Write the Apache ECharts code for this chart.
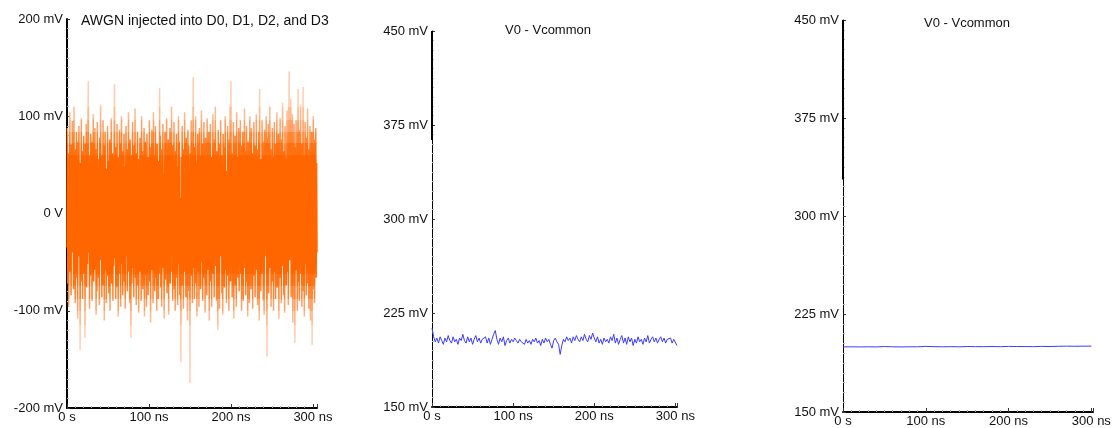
<!DOCTYPE html>
<html>
<head>
<meta charset="utf-8">
<script src="https://cdn.jsdelivr.net/npm/echarts@6/dist/echarts.min.js"></script>
<style>
  html, body { margin: 0; padding: 0; background: #fff; }
  #main { width: 1114px; height: 428px; }
</style>
</head>
<body>
<div id="main"></div>
<script>
var chart = echarts.init(document.getElementById('main'));

// AWGN trace, mV, one sample every 0.5 ns from 0 to 305 ns
var awgnStep = 0.5;
var awgnMv = [
  -35, 88, -72, 45, -96, 62, -18, 104, -60, 30, -84, 71, -40, 95, -22, 58, -78, 110, -50, 26,
  -92, 66, -30, 84, -66, 12, -108, 74, -44, 90, -20, 52, -140, 38, -70, 98, -56, 20, -88, 64,
  -34, 80, -62, 44, -128, 72, -10, 92, -76, 36, -52, 86, 136, -40, 60, -98, 28, -64, 82, -24,
  74, -90, 50, -36, 102, -70, 16, -58, 88, -14, 66, -104, 40, -80, 94, -28, 56, -66, 22, -94,
  78, -48, 112, -20, 60, -86, 34, -74, 96, -42, 70, -110, 8, 84, -58, 46, -92, 30, -38, 90,
  -64, 54, -82, 24, 76, -100, 42, -30, 98, -72, 18, 62, -90, 36, -54, 80, 133, -46, 68, -88,
  26, -76, 92, -12, 58, -106, 44, -62, 86, -34, 72, -96, 14, 100, -52, 38, -84, 64, -26, 82,
  -70, 48, -98, 20, 90, -44, 66, -80, 32, -60, 104, -16, 54, -92, 76, -38, -128, 60, -72, 28,
  94, -56, 40, -86, 70, -22, 108, -66, 16, -94, 62, -40, 84, -74, 30, -102, 56, -18, 78, -60,
  46, -90, 100, -28, 64, -78, 22, -50, 88, -106, 36, 74, -64, 12, -96, 82, -42, 58, -84, 34,
  -20, 96, -70, 50, -112, 68, -32, 86, -58, 26, -92, 104, -46, 60, -80, 18, 90, -66, 42, -100,
  72, -24, 54, -88, 30, -62, 129, -48, 80, -76, 14, -96, 66, -36, 92, -56, 40, -108, 20, 84,
  -68, 58, -40, 98, -82, 28, -54, 76, -104, 44, -18, 88, -72, 62, -30, 110, -60, 22, -90, 70,
  -46, 94, -78, 36, -100, 64, -12, 82, -66, 48, -94, 26, 100, -52, 74, -84, 16, -38, -153, 58,
  -74, 90, -42, 66, -98, 32, -60, 104, -22, 56, -86, 78, -50, 20, -110, 86, -34, 70, -80, 44,
  -174, 62, -28, 96, -64, 40, -92, 74, 140, -56, 30, -88, 68, -18, 100, -72, 52, -106, 24, 82,
  -60, 46, -96, 88, -34, 60, -78, 14, 106, -50, 72, -90, 36, -66, 94, -24, 54, -102, 78, -42,
  20, -84, 98, -58, 66, -30, 84, -110, 44, -16, 92, -70, 58, -96, 28, -48, 102, -62, 34, -86,
  76, -20, 110, -54, 40, -90, 64, -36, -120, 86, -68, 26, -98, 72, -44, 96, -14, 60, -82, 50,
  -104, 82, -38, 68, -76, 18, 100, -58, 44, -92, 30, -64, 90, -26, 56, -100, 76, -48, 112, -70,
  136, -32, 62, -86, 24, -54, 94, -108, 48, -20, 80, -74, 36, -96, 104, -44, 58, -66, 14, 88,
  -80, 52, -28, 96, -62, 40, -100, 70, -16, 84, -90, 32, -56, 108, -38, 64, -84, 22, 90, -70,
  46, -106, 74, -24, 58, -92, 100, -48, 34, -78, 88, -12, 62, -98, 42, -64, 94, -30, 70, -86,
  26, -58, 102, -40, 66, -94, 18, -72, 84, -110, 128, -36, 56, -80, 30, -62, 96, -20, 74, -90,
  50, -104, 86, -44, 62, -26, 100, -68, -147, 78, -34, 92, -82, 40, -56, 110, -18, 66, -96, 36,
  -70, 88, -42, 58, -100, 24, 94, -60, 46, -88, 72, -14, 104, -76, 32, -50, 82, -108, 60, -28,
  98, -66, 42, -92, 76, -22, 114, -54, 28, -84, 64, -102, 90, -38, 56, -74, 20, 106, -60, 44,
  -94, 80, 146, -48, 70, -30, 118, -86, 36, -64, 102, -112, 58, -20, 92, -76, -133, 68, -40, 96,
  -58, 34, -100, 74, 128, -70, 48, -90, 86, -26, 112, -62, 40, -96, 72, -44, 130, -80, 60, -106,
  24, 94, -52, 78, -84, 38, -18, 108, -72, 56, -98, 66, -34, 90, -110, 46, -60, 84, -135, 30,
  -78, 100, -42, 62, -92, 76, -28, 88, -66, 52, -40
];

// V0 - Vcommon, middle panel, mV, one sample every 2 ns
var midStep = 2;
var midMv = [
  213, 206, 202, 205, 201, 206, 203, 200, 205, 202, 207, 203, 201, 206, 202, 204, 200, 205, 203, 208,
  203, 201, 206, 202, 205, 200, 204, 207, 202, 205, 201, 204, 203, 206, 201, 205, 200, 204, 208, 211,
  204, 200, 205, 202, 206, 199, 203, 205, 201, 204, 202, 205, 203, 201, 204, 202, 203, 200, 204, 201,
  203, 200, 204, 202, 205, 201, 203, 199, 204, 201, 205, 202, 204, 200, 197, 203, 205, 202, 200, 192,
  199, 204, 202, 206, 203, 205, 201, 206, 203, 207, 204, 202, 206, 203, 208, 204, 202, 207, 204, 209,
  205, 202, 206, 201, 204, 200, 205, 202, 204, 201, 206, 203, 208, 201, 205, 200, 204, 207, 201, 205,
  200, 206, 202, 205, 199, 204, 201, 206, 202, 204, 200, 205, 202, 207, 201, 204, 206, 202, 205, 201,
  204, 206, 202, 205, 201, 204, 203, 205, 201, 204, 203, 199
];

// V0 - Vcommon, right panel, mV, one sample every 10 ns
var rightStep = 10;
var rightMv = [
  199.8, 199.9, 199.8, 199.9, 199.8, 200.1, 199.9, 199.8, 199.9, 199.9, 200.2, 200.0, 199.9, 200.0, 199.9, 200.1,
  200.0, 200.0, 200.1, 200.0, 200.2, 200.1, 200.1, 200.0, 200.2, 200.1, 200.3, 200.4, 200.3, 200.4, 200.4
];

var titles = ['AWGN injected into D0, D1, D2, and D3', 'V0 - Vcommon', 'V0 - Vcommon'];

function pairs(values, step) {
  return values.map(function (v, i) { return [i * step, v]; });
}

var labelFont = { fontFamily: 'Liberation Sans, Arial, sans-serif', fontSize: 13, color: '#111' };

function timeAxis(gridIndex, max) {
  return {
    type: 'value', gridIndex: gridIndex, min: 0, max: max, interval: 100,
    axisLine: { onZero: false, lineStyle: { color: '#000', width: 2 } },
    axisTick: { inside: true, length: 4, lineStyle: { color: '#333' } },
    minorTick: { show: true, splitNumber: 10, length: 2, lineStyle: { color: '#aaa' } },
    splitLine: { show: false },
    axisLabel: Object.assign({
      margin: 3, showMaxLabel: false,
      formatter: function (v) { return v === 0 ? '0 s' : v + ' ns'; }
    }, labelFont)
  };
}

function voltAxis(gridIndex, min, max, interval, width) {
  return {
    type: 'value', gridIndex: gridIndex, min: min, max: max, interval: interval,
    axisLine: { onZero: false, lineStyle: { color: '#000', width: width } },
    axisTick: { inside: true, length: 3, lineStyle: { color: '#333' } },
    minorTick: { show: true, splitNumber: 10, length: 2, lineStyle: { color: '#bbb' } },
    splitLine: { show: false },
    axisLabel: Object.assign({
      margin: 4,
      formatter: function (v) { return v === 0 ? '0 V' : v + ' mV'; }
    }, labelFont)
  };
}

var titleStyle = { fontFamily: 'Liberation Sans, Arial, sans-serif', fontWeight: 'normal', color: '#111' };

var option = {
  backgroundColor: '#fff',
  animation: false,
  title: [
    { text: titles[0], left: 76, top: 9, textStyle: Object.assign({ fontSize: 14 }, titleStyle) },
    { text: titles[1], left: 543, top: 19, textAlign: 'center', textStyle: Object.assign({ fontSize: 13 }, titleStyle) },
    { text: titles[2], left: 962, top: 12, textAlign: 'center', textStyle: Object.assign({ fontSize: 13 }, titleStyle) }
  ],
  // dense core of the noise is dark orange, the thin excursions fade lighter
  visualMap: {
    type: 'piecewise', show: false, seriesIndex: 0, dimension: 1,
    pieces: [
      { lt: -115, color: '#ffcdb0' },
      { gte: -115, lt: -100, color: '#ffb98c' },
      { gte: -100, lt: -88, color: '#ffa066' },
      { gte: -88, lt: -75, color: '#ff8533' },
      { gte: -75, lt: -62, color: '#ff7010' },
      { gte: -62, lt: 60, color: '#ff6600' },
      { gte: 60, lt: 72, color: '#ff7010' },
      { gte: 72, lt: 84, color: '#ff8533' },
      { gte: 84, lt: 96, color: '#ffa066' },
      { gte: 96, lt: 110, color: '#ffb98c' },
      { gte: 110, color: '#ffcdb0' }
    ]
  },
  grid: [
    { left: 67, top: 19, width: 250, height: 389 },
    { left: 432, top: 31, width: 245, height: 376 },
    { left: 843, top: 20, width: 250, height: 392 }
  ],
  xAxis: [timeAxis(0, 305), timeAxis(1, 302), timeAxis(2, 302)],
  yAxis: [voltAxis(0, -200, 200, 100, 2), voltAxis(1, 150, 450, 75, 1), voltAxis(2, 150, 450, 75, 1)],
  series: [
    {
      type: 'line', xAxisIndex: 0, yAxisIndex: 0,
      data: pairs(awgnMv, awgnStep),
      showSymbol: false, sampling: 'none',
      lineStyle: { width: 1.5 }
    },
    {
      type: 'line', xAxisIndex: 1, yAxisIndex: 1,
      data: pairs(midMv, midStep),
      showSymbol: false,
      lineStyle: { color: '#3b3bff', width: 1 },
      markLine: {
        symbol: 'none', silent: true, label: { show: false },
        lineStyle: { color: '#000', width: 2, type: 'solid' },
        data: [[{ coord: [0, 450] }, { coord: [0, 363] }]]
      }
    },
    {
      type: 'line', xAxisIndex: 2, yAxisIndex: 2,
      data: pairs(rightMv, rightStep),
      showSymbol: false,
      lineStyle: { color: '#3b3bff', width: 1 },
      markLine: {
        symbol: 'none', silent: true, label: { show: false },
        lineStyle: { color: '#000', width: 2, type: 'solid' },
        data: [[{ coord: [0, 450] }, { coord: [0, 328] }]]
      }
    }
  ]
};
chart.setOption(option);
</script>
</body>
</html>
